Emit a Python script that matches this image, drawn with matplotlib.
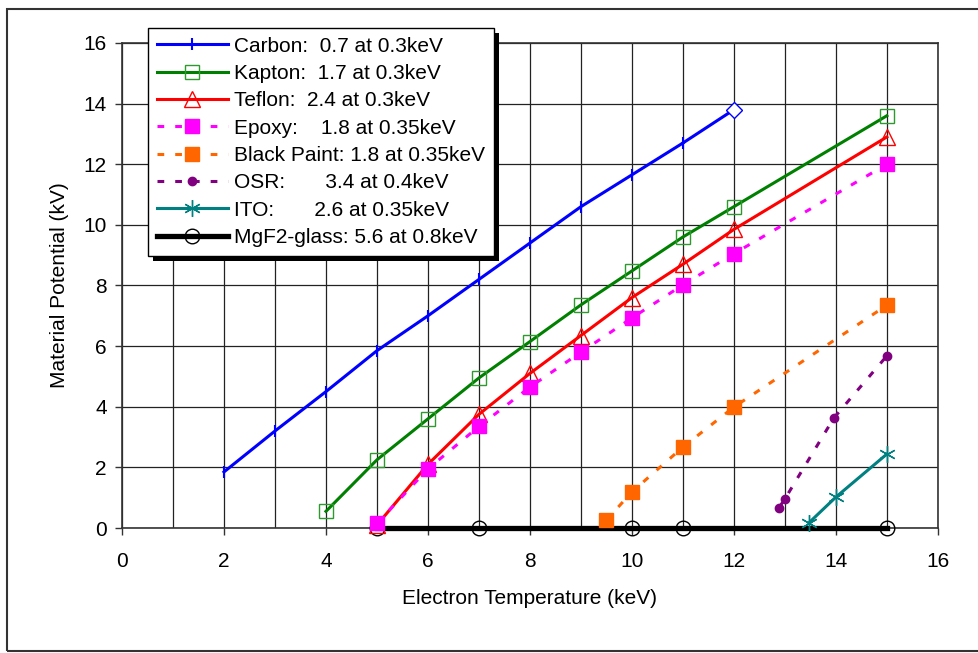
import matplotlib
matplotlib.use("Agg")
import matplotlib.pyplot as plt
from matplotlib.patches import Rectangle

plt.rcParams['font.family'] = ['Liberation Sans', 'DejaVu Sans']

# Electron temperature (keV) and material potential (kV) per material
carbon_x = [2, 3, 4, 5, 6, 7, 8, 9, 10, 11]
carbon_y = [1.85, 3.2, 4.5, 5.85, 7.0, 8.2, 9.4, 10.6, 11.65, 12.7]
carbon_end_x = [12]
carbon_end_y = [13.8]

kapton_x = [4, 5, 6, 7, 8, 9, 10, 11, 12, 15]
kapton_y = [0.55, 2.25, 3.6, 4.95, 6.15, 7.36, 8.48, 9.6, 10.6, 13.6]

teflon_x = [5, 6, 7, 8, 9, 10, 11, 12, 15]
teflon_y = [0.1, 2.1, 3.75, 5.1, 6.35, 7.6, 8.7, 9.85, 12.9]

epoxy_x = [5, 6, 7, 8, 9, 10, 11, 12, 15]
epoxy_y = [0.15, 1.95, 3.35, 4.65, 5.8, 6.93, 8.02, 9.05, 12.0]

paint_x = [9.5, 10, 11, 12, 15]
paint_y = [0.26, 1.19, 2.67, 3.99, 7.35]

osr_x = [12.88, 13.0, 13.96, 15.0]
osr_y = [0.66, 0.96, 3.63, 5.68]

ito_x = [13.47, 14.0, 15.0]
ito_y = [0.17, 1.02, 2.44]

mgf2_x = [5, 7, 10, 11, 15]
mgf2_y = [0, 0, 0, 0, 0]

labels = [
    "Carbon:  0.7 at 0.3keV",
    "Kapton:  1.7 at 0.3keV",
    "Teflon:  2.4 at 0.3keV",
    "Epoxy:    1.8 at 0.35keV",
    "Black Paint: 1.8 at 0.35keV",
    "OSR:       3.4 at 0.4keV",
    "ITO:       2.6 at 0.35keV",
    "MgF2-glass: 5.6 at 0.8keV",
]

fs = 15

fig = plt.figure(figsize=(9.79, 6.53), dpi=100)
ax = fig.add_axes([0.1246, 0.1914, 0.8334, 0.7428])

# outer frame of the figure
fig.patches.append(Rectangle((7 / 979, 2 / 653), 1.0, 1 - 11 / 653,
                             transform=fig.transFigure, fill=False,
                             edgecolor='#333333', linewidth=1.5))

dash = (0, (2.2, 3.6))

ax.plot(carbon_x, carbon_y, color='#0000ff', lw=2.2, marker='|', ms=9,
        mew=1.5, label=labels[0], clip_on=False, zorder=5)
ax.plot([carbon_x[-1]] + carbon_end_x, [carbon_y[-1]] + carbon_end_y,
        color='#0000ff', lw=2.2, clip_on=False, zorder=5)
ax.plot(carbon_end_x, carbon_end_y, ls='none', marker='D', ms=8,
        mfc='white', mec='#0000ff', mew=1, clip_on=False, zorder=6)

ax.plot(kapton_x, kapton_y, color='#008000', lw=2.2, marker='s', ms=10.5,
        mfc='none', mec='#2e9a2e', mew=1, label=labels[1], clip_on=False, zorder=5)
ax.plot(teflon_x, teflon_y, color='#ff0000', lw=2.2, marker='^', ms=11,
        mfc='none', mec='#ff0000', mew=1, label=labels[2], clip_on=False, zorder=5)
ax.plot(epoxy_x, epoxy_y, color='#ff00ff', lw=2.2, ls=dash, marker='s', ms=10.5,
        mec='#ff00ff', label=labels[3], clip_on=False, zorder=5)
ax.plot(paint_x, paint_y, color='#ff6600', lw=2.2, ls=dash, marker='s', ms=10.5,
        mec='#ff6600', label=labels[4], clip_on=False, zorder=5)
ax.plot(osr_x, osr_y, color='#800080', lw=2.2, ls=dash, marker='o', ms=6,
        label=labels[5], clip_on=False, zorder=5)
ax.plot(ito_x, ito_y, color='#008080', lw=2.2, marker=(6, 2, 0), ms=12,
        mew=1, label=labels[6], clip_on=False, zorder=5)
ax.plot(mgf2_x, mgf2_y, color='black', lw=3.8, marker='o', ms=10.5,
        mfc='none', mec='black', mew=1, label=labels[7], clip_on=False, zorder=4)

ax.set_xlim(0, 16)
ax.set_ylim(0, 16)
ax.set_xticks(range(0, 17, 2))
ax.set_yticks(range(0, 17, 2))
ax.set_xticks(range(0, 17), minor=True)
ax.tick_params(which='minor', length=0)
ax.tick_params(which='major', direction='out', length=5, width=1,
               labelsize=fs, color='#333333')
ax.tick_params(axis='x', pad=12)
ax.tick_params(axis='y', pad=6)
ax.grid(True, axis='x', which='both', color='#222222', lw=0.9)
ax.grid(True, axis='y', which='major', color='#222222', lw=0.9)
ax.set_axisbelow(True)
for sp in ax.spines.values():
    sp.set_color('#333333')
    sp.set_linewidth(1.2)

ax.set_xlabel("Electron Temperature (keV)", fontsize=fs, labelpad=13)
ax.set_ylabel("Material Potential (kV)", fontsize=fs, labelpad=10)

leg = ax.legend(loc='upper left', bbox_to_anchor=(0.032, 1.031),
                borderaxespad=0, fontsize=fs, frameon=True, fancybox=False,
                framealpha=1, edgecolor='black', handlelength=3.4,
                handletextpad=0.3, labelspacing=0.40, borderpad=0.42,
                numpoints=1)
leg.get_frame().set_linewidth(1)
leg.set_zorder(10)

# solid black drop shadow behind the legend
fig.canvas.draw()
bb = leg.get_window_extent()
shadow = Rectangle((bb.x0 + 5, bb.y0 - 5), bb.width, bb.height,
                   transform=None, facecolor='black', edgecolor='none', zorder=9)
ax.add_artist(shadow)
shadow.set_clip_on(False)

fig.savefig("out.png", dpi=100)
